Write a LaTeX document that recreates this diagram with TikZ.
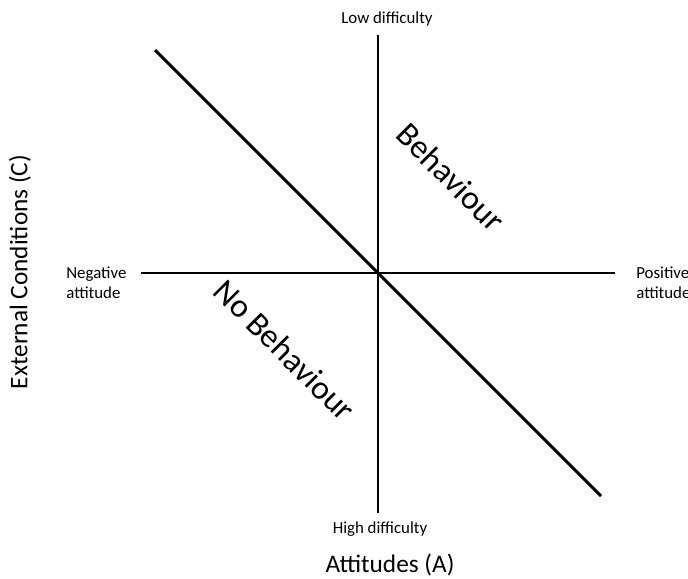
\documentclass[tikz,border=0pt]{standalone}
\usepackage{fontspec}
\setmainfont{Carlito}
\usetikzlibrary{positioning}

\begin{document}
\begin{tikzpicture}[x=0.02cm, y=-0.02cm, font=\fontsize{9.6}{11.4}\selectfont]
\useasboundingbox (0,0) rectangle (688,578);
% axes
\coordinate (top) at (378,35);
\coordinate (bot) at (378,513);
\coordinate (left) at (141,273);
\coordinate (right) at (615,273);
\draw[line width=0.7pt] (top) -- (bot);
\draw[line width=0.7pt] (left) -- (right);
% threshold line
\coordinate (dstart) at (155,50);
\coordinate (dend) at (601,496);
\draw[line width=1.7pt] (dstart) -- (dend);
% axis ends
\node (low) at (387,19) {Low difficulty};
\node (high) at (380,529) {High difficulty};
\node[anchor=west, align=left, inner sep=0pt] (neg) at (66,283) {Negative\\attitude};
\node[anchor=west, align=left, inner sep=0pt] (pos) at (636,283) {Positive\\attitude};
% axis titles
\node[font=\fontsize{14.4}{17}\selectfont] (xlab) at (390,565) {Attitudes (A)};
\node[font=\fontsize{14.4}{17}\selectfont, rotate=90] (ylab) at (20,272) {External Conditions (C)};
% regions
\node[font=\fontsize{19}{22}\selectfont, rotate=-45] (beh) at (451,177) {Behaviour};
\node[font=\fontsize{19}{22}\selectfont, rotate=-45] (nobeh) at (285,350) {No Behaviour};
\end{tikzpicture}
\end{document}
